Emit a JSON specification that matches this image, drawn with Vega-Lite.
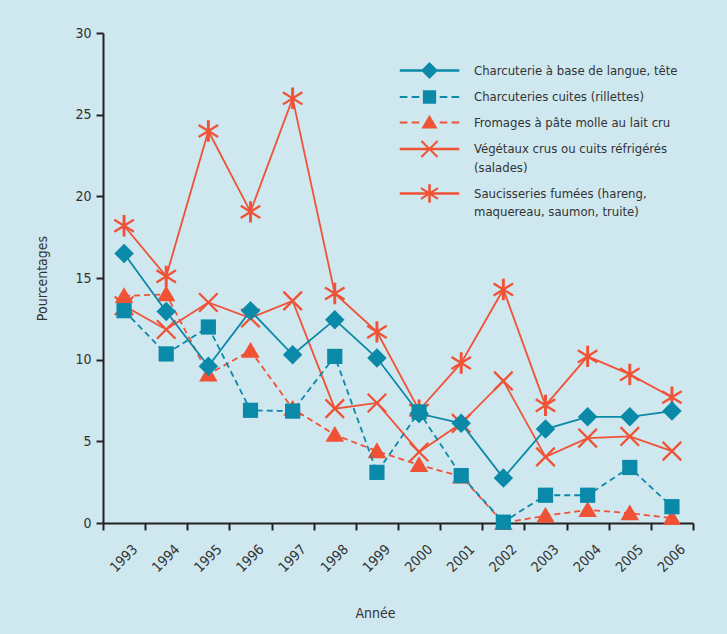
{
  "$schema": "https://vega.github.io/schema/vega-lite/v6.json",
  "width": 590,
  "height": 490,
  "autosize": {"type": "none"},
  "padding": {"left": 103, "top": 33, "right": 34, "bottom": 111},
  "background": "#cfe7ef",
  "view": {"stroke": null},
  "config": {
    "font": "Liberation Sans Narrow, DejaVu Sans Condensed, sans-serif",
    "axis": {
      "labelFont": "Liberation Sans Narrow, DejaVu Sans Condensed, sans-serif",
      "titleFont": "Liberation Sans Narrow, DejaVu Sans Condensed, sans-serif",
      "labelColor": "#333333",
      "titleColor": "#333333",
      "labelFontSize": 14,
      "titleFontSize": 14,
      "titleFontWeight": "normal",
      "domainColor": "#222222",
      "tickColor": "#222222",
      "domainWidth": 2,
      "tickWidth": 2,
      "tickSize": 7,
      "grid": false
    },
    "legend": {
      "labelFont": "Liberation Sans Narrow, DejaVu Sans Condensed, sans-serif",
      "labelFontSize": 13,
      "labelColor": "#333333",
      "labelLimit": 400
    }
  },
  "datasets": {
    "taux": [
      {"serie": "Charcuterie à base de langue, tête", "annee": 1993, "valeur": 16.5},
      {"serie": "Charcuterie à base de langue, tête", "annee": 1994, "valeur": 12.95},
      {"serie": "Charcuterie à base de langue, tête", "annee": 1995, "valeur": 9.6},
      {"serie": "Charcuterie à base de langue, tête", "annee": 1996, "valeur": 13.0},
      {"serie": "Charcuterie à base de langue, tête", "annee": 1997, "valeur": 10.3},
      {"serie": "Charcuterie à base de langue, tête", "annee": 1998, "valeur": 12.45},
      {"serie": "Charcuterie à base de langue, tête", "annee": 1999, "valeur": 10.1},
      {"serie": "Charcuterie à base de langue, tête", "annee": 2000, "valeur": 6.7},
      {"serie": "Charcuterie à base de langue, tête", "annee": 2001, "valeur": 6.1},
      {"serie": "Charcuterie à base de langue, tête", "annee": 2002, "valeur": 2.75},
      {"serie": "Charcuterie à base de langue, tête", "annee": 2003, "valeur": 5.75},
      {"serie": "Charcuterie à base de langue, tête", "annee": 2004, "valeur": 6.5},
      {"serie": "Charcuterie à base de langue, tête", "annee": 2005, "valeur": 6.5},
      {"serie": "Charcuterie à base de langue, tête", "annee": 2006, "valeur": 6.85},
      {"serie": "Charcuteries cuites (rillettes)", "annee": 1993, "valeur": 13.0},
      {"serie": "Charcuteries cuites (rillettes)", "annee": 1994, "valeur": 10.35},
      {"serie": "Charcuteries cuites (rillettes)", "annee": 1995, "valeur": 12.0},
      {"serie": "Charcuteries cuites (rillettes)", "annee": 1996, "valeur": 6.9},
      {"serie": "Charcuteries cuites (rillettes)", "annee": 1997, "valeur": 6.85},
      {"serie": "Charcuteries cuites (rillettes)", "annee": 1998, "valeur": 10.2},
      {"serie": "Charcuteries cuites (rillettes)", "annee": 1999, "valeur": 3.1},
      {"serie": "Charcuteries cuites (rillettes)", "annee": 2000, "valeur": 6.8},
      {"serie": "Charcuteries cuites (rillettes)", "annee": 2001, "valeur": 2.9},
      {"serie": "Charcuteries cuites (rillettes)", "annee": 2002, "valeur": 0.05},
      {"serie": "Charcuteries cuites (rillettes)", "annee": 2003, "valeur": 1.7},
      {"serie": "Charcuteries cuites (rillettes)", "annee": 2004, "valeur": 1.7},
      {"serie": "Charcuteries cuites (rillettes)", "annee": 2005, "valeur": 3.4},
      {"serie": "Charcuteries cuites (rillettes)", "annee": 2006, "valeur": 1.0},
      {"serie": "Fromages à pâte molle au lait cru", "annee": 1993, "valeur": 13.9},
      {"serie": "Fromages à pâte molle au lait cru", "annee": 1994, "valeur": 14.0},
      {"serie": "Fromages à pâte molle au lait cru", "annee": 1995, "valeur": 9.1},
      {"serie": "Fromages à pâte molle au lait cru", "annee": 1996, "valeur": 10.55},
      {"serie": "Fromages à pâte molle au lait cru", "annee": 1997, "valeur": 7.0},
      {"serie": "Fromages à pâte molle au lait cru", "annee": 1998, "valeur": 5.4},
      {"serie": "Fromages à pâte molle au lait cru", "annee": 1999, "valeur": 4.4},
      {"serie": "Fromages à pâte molle au lait cru", "annee": 2000, "valeur": 3.55},
      {"serie": "Fromages à pâte molle au lait cru", "annee": 2001, "valeur": 2.85},
      {"serie": "Fromages à pâte molle au lait cru", "annee": 2002, "valeur": 0.0},
      {"serie": "Fromages à pâte molle au lait cru", "annee": 2003, "valeur": 0.45},
      {"serie": "Fromages à pâte molle au lait cru", "annee": 2004, "valeur": 0.8},
      {"serie": "Fromages à pâte molle au lait cru", "annee": 2005, "valeur": 0.6},
      {"serie": "Fromages à pâte molle au lait cru", "annee": 2006, "valeur": 0.3},
      {"serie": "Végétaux crus ou cuits réfrigérés (salades)", "annee": 1993, "valeur": 13.3},
      {"serie": "Végétaux crus ou cuits réfrigérés (salades)", "annee": 1994, "valeur": 11.85},
      {"serie": "Végétaux crus ou cuits réfrigérés (salades)", "annee": 1995, "valeur": 13.5},
      {"serie": "Végétaux crus ou cuits réfrigérés (salades)", "annee": 1996, "valeur": 12.55},
      {"serie": "Végétaux crus ou cuits réfrigérés (salades)", "annee": 1997, "valeur": 13.6},
      {"serie": "Végétaux crus ou cuits réfrigérés (salades)", "annee": 1998, "valeur": 7.0},
      {"serie": "Végétaux crus ou cuits réfrigérés (salades)", "annee": 1999, "valeur": 7.35},
      {"serie": "Végétaux crus ou cuits réfrigérés (salades)", "annee": 2000, "valeur": 4.35},
      {"serie": "Végétaux crus ou cuits réfrigérés (salades)", "annee": 2001, "valeur": 6.1},
      {"serie": "Végétaux crus ou cuits réfrigérés (salades)", "annee": 2002, "valeur": 8.7},
      {"serie": "Végétaux crus ou cuits réfrigérés (salades)", "annee": 2003, "valeur": 4.05},
      {"serie": "Végétaux crus ou cuits réfrigérés (salades)", "annee": 2004, "valeur": 5.2},
      {"serie": "Végétaux crus ou cuits réfrigérés (salades)", "annee": 2005, "valeur": 5.3},
      {"serie": "Végétaux crus ou cuits réfrigérés (salades)", "annee": 2006, "valeur": 4.4},
      {"serie": "Saucisseries fumées (hareng, maquereau, saumon, truite)", "annee": 1993, "valeur": 18.2},
      {"serie": "Saucisseries fumées (hareng, maquereau, saumon, truite)", "annee": 1994, "valeur": 15.1},
      {"serie": "Saucisseries fumées (hareng, maquereau, saumon, truite)", "annee": 1995, "valeur": 24.0},
      {"serie": "Saucisseries fumées (hareng, maquereau, saumon, truite)", "annee": 1996, "valeur": 19.05},
      {"serie": "Saucisseries fumées (hareng, maquereau, saumon, truite)", "annee": 1997, "valeur": 26.0},
      {"serie": "Saucisseries fumées (hareng, maquereau, saumon, truite)", "annee": 1998, "valeur": 14.05},
      {"serie": "Saucisseries fumées (hareng, maquereau, saumon, truite)", "annee": 1999, "valeur": 11.7},
      {"serie": "Saucisseries fumées (hareng, maquereau, saumon, truite)", "annee": 2000, "valeur": 6.9},
      {"serie": "Saucisseries fumées (hareng, maquereau, saumon, truite)", "annee": 2001, "valeur": 9.8},
      {"serie": "Saucisseries fumées (hareng, maquereau, saumon, truite)", "annee": 2002, "valeur": 14.3},
      {"serie": "Saucisseries fumées (hareng, maquereau, saumon, truite)", "annee": 2003, "valeur": 7.2},
      {"serie": "Saucisseries fumées (hareng, maquereau, saumon, truite)", "annee": 2004, "valeur": 10.2},
      {"serie": "Saucisseries fumées (hareng, maquereau, saumon, truite)", "annee": 2005, "valeur": 9.1},
      {"serie": "Saucisseries fumées (hareng, maquereau, saumon, truite)", "annee": 2006, "valeur": 7.7}
    ]
  },
  "data": {"name": "taux"},
  "resolve": {"axis": {"x": "independent"}},
  "layer": [
    {
      "transform": [{"filter": {"field": "serie", "equal": "Saucisseries fumées (hareng, maquereau, saumon, truite)"}}],
      "mark": {"type": "line", "strokeWidth": 1.8, "color": "#f05236",
        "point": {"filled": true, "opacity": 1, "size": 380, "color": "#f05236",
          "shape": "M-0.15,-1.1H0.15V1.1H-0.15Z M-0.937,-0.722L1.063,0.518L0.937,0.722L-1.063,-0.518Z M1.063,-0.518L-0.937,0.722L-1.063,0.518L0.937,-0.722Z"}},
      "encoding": {
        "x": {"field": "annee", "type": "quantitative", "scale": {"domain": [1992.5, 2006.5], "nice": false, "zero": false},
          "axis": {"orient": "bottom", "values": [1992.5, 1993.5, 1994.5, 1995.5, 1996.5, 1997.5, 1998.5, 1999.5, 2000.5, 2001.5, 2002.5, 2003.5, 2004.5, 2005.5, 2006.5],
            "labelExpr": "datum.value > 2006 ? '' : toString(datum.value + 0.5)",
            "labelAngle": -45, "labelAlign": "right", "labelBaseline": "middle", "labelOffset": 32, "labelPadding": 17,
            "labelOverlap": false, "labelBound": false, "labelFlush": false,
            "title": "Année", "titleX": 272, "titleY": 90, "titleBaseline": "middle"}},
        "y": {"field": "valeur", "type": "quantitative", "scale": {"domain": [0, 30], "nice": false},
          "axis": {"values": [0, 5, 10, 15, 20, 25, 30], "labelPadding": 5, "title": "Pourcentages", "titleX": -61, "titleY": 245, "titleAngle": -90, "titleBaseline": "middle", "titleAlign": "center"}}
      }
    },
    {
      "transform": [{"filter": {"field": "serie", "equal": "Végétaux crus ou cuits réfrigérés (salades)"}}],
      "mark": {"type": "line", "strokeWidth": 1.8, "color": "#f05236",
        "point": {"filled": true, "opacity": 1, "size": 380, "color": "#f05236",
          "shape": "M-0.867,-1.033L1.033,0.867L0.867,1.033L-1.033,-0.867Z M1.033,-0.867L-0.867,1.033L-1.033,0.867L0.867,-1.033Z"}},
      "encoding": {
        "x": {"field": "annee", "type": "quantitative", "axis": null},
        "y": {"field": "valeur", "type": "quantitative"}
      }
    },
    {
      "transform": [{"filter": {"field": "serie", "equal": "Fromages à pâte molle au lait cru"}}],
      "mark": {"type": "line", "strokeWidth": 1.8, "color": "#f05236", "strokeDash": [6, 4],
        "point": {"filled": true, "opacity": 1, "size": 380, "color": "#f05236",
          "shape": "M0,-0.9L0.95,0.72L-0.95,0.72Z"}},
      "encoding": {
        "x": {"field": "annee", "type": "quantitative", "axis": null},
        "y": {"field": "valeur", "type": "quantitative"}
      }
    },
    {
      "transform": [{"filter": {"field": "serie", "equal": "Charcuteries cuites (rillettes)"}}],
      "mark": {"type": "line", "strokeWidth": 1.8, "color": "#0a8aa8", "strokeDash": [6, 4],
        "point": {"filled": true, "opacity": 1, "size": 380, "color": "#0a8aa8",
          "shape": "M-0.78,-0.78H0.78V0.78H-0.78Z"}},
      "encoding": {
        "x": {"field": "annee", "type": "quantitative", "axis": null},
        "y": {"field": "valeur", "type": "quantitative"}
      }
    },
    {
      "transform": [{"filter": {"field": "serie", "equal": "Charcuterie à base de langue, tête"}}],
      "mark": {"type": "line", "strokeWidth": 1.8, "color": "#0a8aa8",
        "point": {"filled": true, "opacity": 1, "size": 380, "color": "#0a8aa8",
          "shape": "M0,-1L1,0L0,1L-1,0Z"}},
      "encoding": {
        "x": {"field": "annee", "type": "quantitative", "axis": null},
        "y": {"field": "valeur", "type": "quantitative"}
      }
    },
    {
      "mark": {"type": "point", "filled": true, "opacity": 0, "size": 289},
      "encoding": {
        "x": {"field": "annee", "type": "quantitative", "axis": null},
        "y": {"field": "valeur", "type": "quantitative"},
        "color": {"field": "serie", "type": "nominal",
          "scale": {"domain": ["Charcuterie à base de langue, tête", "Charcuteries cuites (rillettes)", "Fromages à pâte molle au lait cru", "Végétaux crus ou cuits réfrigérés (salades)", "Saucisseries fumées (hareng, maquereau, saumon, truite)"],
            "range": ["#0a8aa8", "#0a8aa8", "#f05236", "#f05236", "#f05236"]},
          "legend": {"title": null, "orient": "none", "legendX": 318, "legendY": 29, "padding": 0,
            "symbolSize": 289, "symbolOpacity": 1, "symbolStrokeWidth": 0, "labelOffset": 36, "rowPadding": 9.5,
            "labelBaseline": "top",
            "labelExpr": "datum.label == 'Végétaux crus ou cuits réfrigérés (salades)' ? ['Végétaux crus ou cuits réfrigérés', '(salades)'] : datum.label == 'Saucisseries fumées (hareng, maquereau, saumon, truite)' ? ['Saucisseries fumées (hareng,', 'maquereau, saumon, truite)'] : datum.label",
            "encode": {"labels": {"update": {"dy": {"value": -6}, "lineHeight": {"value": 18.5}}},
                       "symbols": {"update": {"opacity": {"value": 1}, "fillOpacity": {"value": 1}, "strokeWidth": {"value": 0}}}}}},
        "shape": {"field": "serie", "type": "nominal",
          "scale": {"domain": ["Charcuterie à base de langue, tête", "Charcuteries cuites (rillettes)", "Fromages à pâte molle au lait cru", "Végétaux crus ou cuits réfrigérés (salades)", "Saucisseries fumées (hareng, maquereau, saumon, truite)"],
            "range": [
              "M-3.5,-0.14H3.5V0.14H-3.5Z M0,-1L1,0L0,1L-1,0Z",
              "M-3.5,-0.13H-2.6V0.13H-3.5Z M-2.1,-0.13H-1.2V0.13H-2.1Z M1.2,-0.13H2.1V0.13H1.2Z M2.6,-0.13H3.5V0.13H2.6Z M-0.78,-0.78H0.78V0.78H-0.78Z",
              "M-3.5,-0.13H-2.6V0.13H-3.5Z M-2.1,-0.13H-1.2V0.13H-2.1Z M1.2,-0.13H2.1V0.13H1.2Z M2.6,-0.13H3.5V0.13H2.6Z M0,-0.9L0.95,0.72L-0.95,0.72Z",
              "M-3.5,-0.16H3.5V0.16H-3.5Z M-0.867,-1.033L1.033,0.867L0.867,1.033L-1.033,-0.867Z M1.033,-0.867L-0.867,1.033L-1.033,0.867L0.867,-1.033Z",
              "M-3.5,-0.14H3.5V0.14H-3.5Z M-0.15,-1.1H0.15V1.1H-0.15Z M-0.937,-0.722L1.063,0.518L0.937,0.722L-1.063,-0.518Z M1.063,-0.518L-0.937,0.722L-1.063,0.518L0.937,-0.722Z"
            ]},
          "legend": {"title": null, "orient": "none", "legendX": 318, "legendY": 29, "padding": 0,
            "symbolSize": 289, "symbolOpacity": 1, "symbolStrokeWidth": 0, "labelOffset": 36, "rowPadding": 9.5,
            "labelBaseline": "top",
            "labelExpr": "datum.label == 'Végétaux crus ou cuits réfrigérés (salades)' ? ['Végétaux crus ou cuits réfrigérés', '(salades)'] : datum.label == 'Saucisseries fumées (hareng, maquereau, saumon, truite)' ? ['Saucisseries fumées (hareng,', 'maquereau, saumon, truite)'] : datum.label",
            "encode": {"labels": {"update": {"dy": {"value": -6}, "lineHeight": {"value": 18.5}}},
                       "symbols": {"update": {"opacity": {"value": 1}, "fillOpacity": {"value": 1}, "strokeWidth": {"value": 0}}}}}}
      }
    }
  ]
}
